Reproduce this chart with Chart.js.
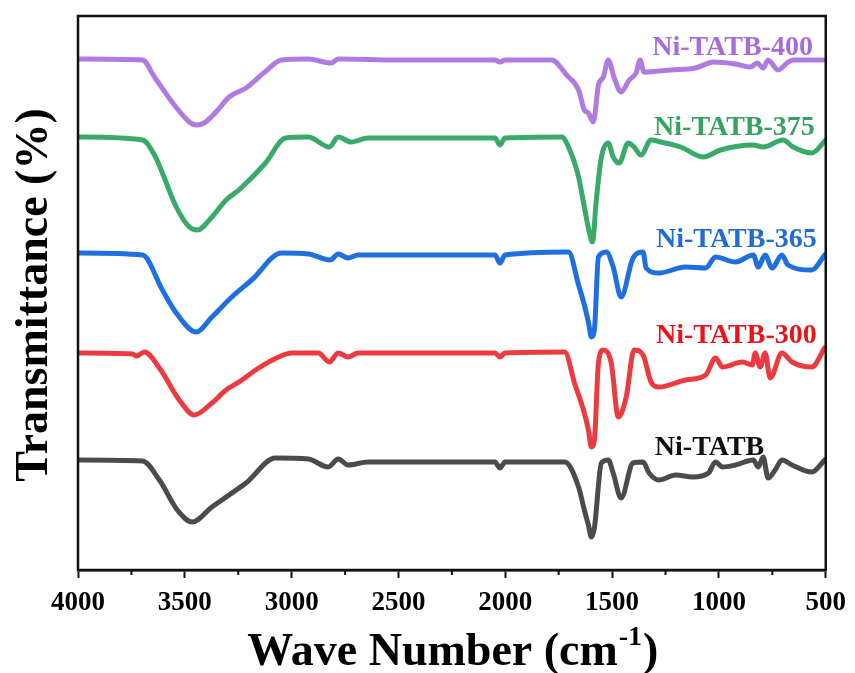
<!DOCTYPE html>
<html>
<head>
<meta charset="utf-8">
<title>FTIR spectra of Ni-TATB samples</title>
<script src="https://cdn.jsdelivr.net/npm/chart.js@4.4.1/dist/chart.umd.min.js"></script>
<style>
  html, body { margin: 0; padding: 0; background: #fff; }
  #wrap { width: 855px; height: 673px; }
</style>
</head>
<body>
<div id="wrap"><canvas id="ftir"></canvas></div>
<script>
// FTIR spectra, stacked with offsets (arbitrary transmittance units).
// Wave numbers in cm-1, x axis runs from 4000 down to 500.

const xTicks = [4000, 3500, 3000, 2500, 2000, 1500, 1000, 500];

const wnNiTATB = [4000, 3698, 3619, 3535, 3465, 3373, 3293, 3214, 3075, 2922,
  2829, 2782, 2736, 2643, 2048, 2025, 2001, 1722, 1657, 1630,
  1611, 1597, 1583, 1550, 1518, 1495, 1458, 1402, 1355, 1327,
  1281, 1202, 1123, 1049, 1016, 983, 923, 839, 816, 793,
  770, 737, 705, 658, 565, 505];
const tNiTATB = [110, 109, 90, 60, 48, 63, 75, 87, 112, 111,
  103, 111, 105, 108, 108, 102, 108, 108, 83, 60,
  45, 33, 42, 107, 110, 97, 72, 107, 108, 97,
  90, 95, 93, 97, 108, 103, 105, 110, 103, 113,
  92, 100, 110, 105, 98, 110];

const wn300 = [4000, 3744, 3726, 3689, 3619, 3526, 3456, 3373, 3307, 3247,
  3154, 3061, 3001, 2875, 2824, 2782, 2736, 2689, 2048, 2025,
  2001, 1722, 1676, 1630, 1611, 1597, 1583, 1564, 1541, 1504,
  1471, 1434, 1397, 1355, 1318, 1281, 1156, 1062, 1016, 983,
  890, 844, 830, 807, 784, 760, 705, 658, 565, 505];
const t300 = [217, 216, 214, 218, 202, 170, 155, 167, 180, 188,
  202, 213, 217, 217, 208, 217, 213, 217, 217, 213,
  217, 218, 187, 157, 140, 123, 130, 207, 220, 207,
  153, 173, 220, 215, 188, 183, 190, 195, 212, 203,
  208, 205, 217, 203, 217, 192, 217, 208, 203, 222];

const wn365 = [4000, 3698, 3605, 3540, 3447, 3373, 3280, 3187, 3047, 2922,
  2819, 2782, 2736, 2689, 2048, 2025, 2001, 1704, 1657, 1630,
  1611, 1597, 1583, 1564, 1527, 1495, 1458, 1402, 1355, 1341,
  1281, 1156, 1062, 1016, 923, 839, 816, 784, 751, 705,
  677, 565, 505];
const t365 = [317, 315, 280, 257, 238, 253, 273, 290, 317, 316,
  310, 316, 312, 315, 315, 307, 315, 318, 285, 265,
  248, 233, 240, 313, 318, 303, 273, 312, 318, 302,
  297, 303, 302, 313, 308, 315, 303, 315, 302, 315,
  305, 300, 315];

const wn375 = [4000, 3698, 3642, 3605, 3540, 3479, 3442, 3373, 3307, 3247,
  3122, 3029, 2922, 2824, 2782, 2722, 2643, 2048, 2025, 2001,
  1736, 1704, 1657, 1630, 1606, 1592, 1574, 1550, 1518, 1495,
  1467, 1425, 1397, 1365, 1318, 1272, 1179, 1072, 993, 839,
  793, 700, 653, 565, 500];
const t375 = [433, 430, 415, 397, 363, 343, 340, 353, 370, 380,
  407, 432, 433, 423, 433, 428, 432, 432, 425, 432,
  433, 423, 393, 363, 337, 328, 370, 413, 427, 413,
  407, 427, 423, 415, 430, 428, 423, 413, 420, 425,
  423, 430, 423, 417, 430];

const wn400 = [4000, 3698, 3642, 3549, 3479, 3447, 3410, 3354, 3293, 3214,
  3131, 3047, 2922, 2815, 2782, 2503, 2048, 2025, 2001, 1783,
  1713, 1657, 1630, 1611, 1588, 1564, 1541, 1518, 1490, 1458,
  1420, 1388, 1369, 1351, 1225, 1109, 1025, 923, 853, 821,
  793, 770, 723, 681, 653, 500];
const t400 = [511, 510, 493, 465, 448, 445, 447, 458, 473, 482,
  497, 510, 511, 507, 511, 510, 510, 508, 510, 510,
  495, 480, 460, 457, 448, 485, 493, 510, 492, 478,
  490, 497, 510, 498, 500, 502, 508, 506, 503, 507,
  502, 510, 500, 507, 510, 510];

const seriesNames = ['Ni-TATB', 'Ni-TATB-300', 'Ni-TATB-365', 'Ni-TATB-375', 'Ni-TATB-400'];
const seriesX = [wnNiTATB, wn300, wn365, wn375, wn400];
const seriesY = [tNiTATB, t300, t365, t375, t400];

const lineColors = ['#4b4b4b', '#ec3b40', '#1f6fe0', '#3aaa6a', '#b07be0'];
const textColors = ['#111111', '#e8141a', '#1f6dd0', '#36a262', '#a86cd8'];
// where each curve name sits: [wave number, level, align]
const labelSpots = [
  [1044, 125, 'center'],
  [542, 237, 'right'],
  [542, 333, 'right'],
  [551, 445, 'right'],
  [560, 525, 'right']
];

const SERIF = '"Liberation Serif", "Times New Roman", serif';

const datasets = seriesNames.map((name, i) => ({
  label: name,
  data: seriesX[i].map((w, k) => ({ x: w, y: seriesY[i][k] })),
  borderColor: lineColors[i],
  borderWidth: 5,
  pointRadius: 0,
  fill: false,
  cubicInterpolationMode: 'monotone',
  borderJoinStyle: 'round',
  borderCapStyle: 'round'
}));

const decorations = {
  id: 'decorations',
  afterDraw(chart) {
    const { ctx, chartArea: a, scales } = chart;
    const xs = scales.x, ys = scales.y;
    ctx.save();

    // frame
    ctx.strokeStyle = '#111';
    ctx.lineWidth = 2.5;
    ctx.strokeRect(a.left, a.top, a.right - a.left, a.bottom - a.top);

    // minor ticks
    ctx.lineWidth = 2;
    for (let w = 3750; w > 500; w -= 500) {
      const px = xs.getPixelForValue(w);
      ctx.beginPath();
      ctx.moveTo(px, a.bottom);
      ctx.lineTo(px, a.bottom + 5);
      ctx.stroke();
    }

    // curve names
    ctx.font = 'bold 28px ' + SERIF;
    labelSpots.forEach((s, i) => {
      ctx.fillStyle = textColors[i];
      ctx.textAlign = s[2];
      ctx.textBaseline = 'alphabetic';
      ctx.fillText(seriesNames[i], xs.getPixelForValue(s[0]), ys.getPixelForValue(s[1]) + 9.5);
    });

    // x title with superscript
    ctx.fillStyle = '#000';
    ctx.textAlign = 'left';
    const main = 'Wave Number (cm';
    const sup = '-1';
    const bigFont = 'bold 46px ' + SERIF;
    const supFont = 'bold 28px ' + SERIF;
    ctx.font = bigFont;
    const w1 = ctx.measureText(main).width;
    const w3 = ctx.measureText(')').width;
    ctx.font = supFont;
    const w2 = ctx.measureText(sup).width;
    let x0 = (a.left + a.right) / 2 - (w1 + w2 + w3) / 2;
    const base = 665;
    ctx.font = bigFont;
    ctx.fillText(main, x0, base);
    ctx.font = supFont;
    ctx.fillText(sup, x0 + w1 + 1, base - 20);
    ctx.font = bigFont;
    ctx.fillText(')', x0 + w1 + w2 + 2, base);

    // y title
    ctx.save();
    ctx.translate(47, 295);
    ctx.rotate(-Math.PI / 2);
    ctx.textAlign = 'center';
    ctx.font = bigFont;
    ctx.fillText('Transmittance (%)', 0, 0);
    ctx.restore();

    ctx.restore();
  }
};

new Chart(document.getElementById('ftir'), {
  type: 'line',
  data: { datasets },
  options: {
    responsive: true,
    maintainAspectRatio: false,
    animation: false,
    layout: { padding: { left: 78, top: 16, right: 24, bottom: 0 } },
    plugins: {
      legend: { display: false },
      tooltip: { enabled: false }
    },
    scales: {
      x: {
        type: 'linear',
        reverse: true,
        min: 500,
        max: 4000,
        afterBuildTicks: (scale) => { scale.ticks = xTicks.map(v => ({ value: v })); },
        afterFit: (scale) => { scale.height = 103; },
        border: { display: true, color: '#111', width: 2.5 },
        grid: { drawOnChartArea: false, drawTicks: true, tickLength: 8, tickWidth: 2, tickColor: '#111' },
        ticks: {
          color: '#000',
          padding: 9,
          maxRotation: 0,
          autoSkip: false,
          callback: (v) => String(v),
          font: { family: SERIF, size: 27, weight: 'bold' }
        }
      },
      y: {
        display: false,
        min: 0,
        max: 554
      }
    }
  },
  plugins: [decorations]
});
</script>
</body>
</html>
